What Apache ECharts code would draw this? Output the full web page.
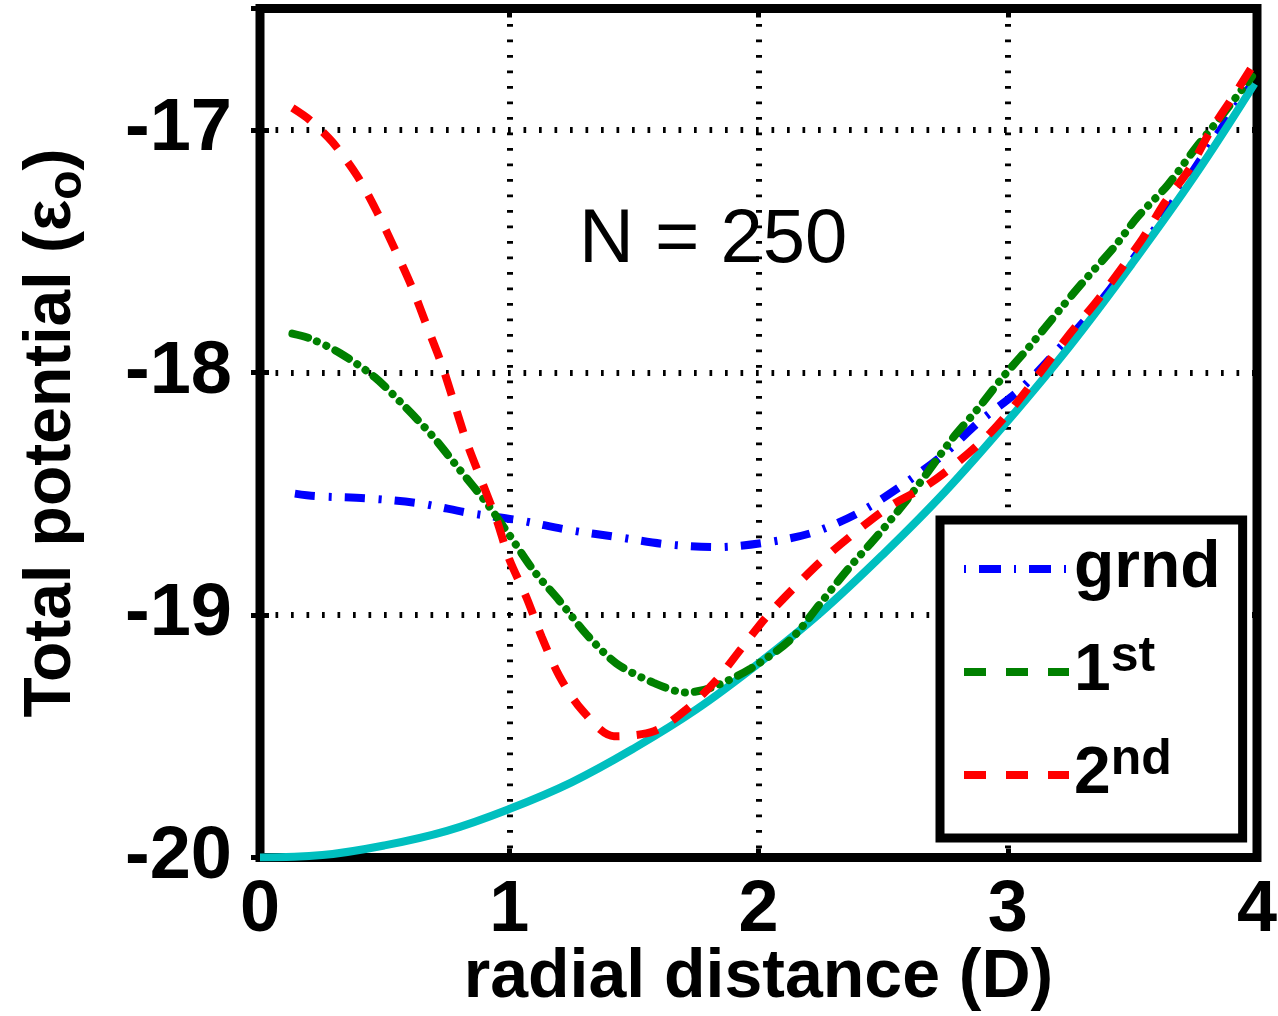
<!DOCTYPE html>
<html>
<head>
<meta charset="utf-8">
<script src="https://cdn.jsdelivr.net/npm/echarts@6/dist/echarts.min.js"></script>
<style>
  html, body { margin: 0; padding: 0; background: #fff; }
  #chart { width: 1278px; height: 1016px; }
</style>
</head>
<body>
<div id="chart"></div>
<script>
// Total potential vs radial distance, N = 250 (x in D, y in units of epsilon_o)
const xTicks = [0, 1, 2, 3, 4];
const yTicks = [-20, -19, -18, -17];

// ground state
const grnd = [
  [0.14, -18.50], [0.22, -18.51], [0.44, -18.52], [0.64, -18.54], [0.84, -18.58],
  [1.04, -18.61], [1.24, -18.65], [1.44, -18.68], [1.64, -18.71], [1.84, -18.72],
  [2.04, -18.70], [2.22, -18.66], [2.40, -18.58], [2.57, -18.47], [2.74, -18.34],
  [2.89, -18.20], [3.05, -18.07], [3.19, -17.92], [3.33, -17.76], [3.49, -17.55],
  [3.61, -17.38], [3.73, -17.19], [3.86, -16.99], [3.98, -16.81]
];

// first excited state
const first = [
  [0.13, -17.84], [0.20, -17.86], [0.32, -17.92], [0.46, -18.02], [0.58, -18.14],
  [0.69, -18.26], [0.80, -18.40], [0.91, -18.54], [1.00, -18.67], [1.10, -18.82],
  [1.20, -18.94], [1.31, -19.08], [1.43, -19.20], [1.58, -19.28], [1.71, -19.32],
  [1.81, -19.30], [1.97, -19.22], [2.13, -19.10], [2.25, -18.95], [2.36, -18.81],
  [2.48, -18.67], [2.60, -18.52], [2.68, -18.41], [2.78, -18.27], [2.88, -18.15],
  [2.98, -18.02], [3.09, -17.89], [3.21, -17.74], [3.30, -17.63], [3.43, -17.48],
  [3.52, -17.36], [3.64, -17.23], [3.75, -17.08], [3.86, -16.94], [3.98, -16.78]
];

// second excited state
const second = [
  [0.13, -16.91], [0.20, -16.96], [0.29, -17.05], [0.39, -17.19], [0.47, -17.34],
  [0.54, -17.49], [0.61, -17.65], [0.67, -17.81], [0.73, -17.97], [0.78, -18.13],
  [0.83, -18.29], [0.89, -18.45], [0.95, -18.61], [1.00, -18.77], [1.07, -18.93],
  [1.13, -19.09], [1.20, -19.25], [1.29, -19.39], [1.42, -19.50], [1.58, -19.48],
  [1.71, -19.39], [1.83, -19.27], [1.93, -19.14], [2.03, -19.01], [2.15, -18.88],
  [2.26, -18.77], [2.40, -18.65], [2.53, -18.55], [2.67, -18.47], [2.80, -18.37],
  [2.93, -18.25], [3.04, -18.12], [3.25, -17.84], [3.37, -17.69], [3.54, -17.45],
  [3.63, -17.30], [3.73, -17.16], [3.81, -17.01], [3.90, -16.87], [3.98, -16.74]
];

// harmonic confining potential
const trap = [
  [0.00, -20.00], [0.25, -19.99], [0.50, -19.95], [0.75, -19.89], [1.00, -19.80],
  [1.25, -19.69], [1.50, -19.55], [1.75, -19.39], [2.00, -19.20], [2.25, -18.99],
  [2.50, -18.75], [2.75, -18.49], [3.00, -18.20], [3.25, -17.89], [3.50, -17.55],
  [3.75, -17.19], [3.99, -16.81]
];

const FONT = '"Liberation Sans", Arial, Helvetica, sans-serif';

const chart = echarts.init(document.getElementById('chart'), null, { renderer: 'canvas' });

const tickStyle = { inside: true, length: 9, lineStyle: { color: '#000', width: 5 } };
const gridDots = { show: true, lineStyle: { color: '#000', width: 6, type: [2.7, 12.8] } };

chart.setOption({
  animation: false,
  backgroundColor: '#fff',
  grid: {
    left: 260, right: 21, top: 8.5, bottom: 158.5,
    outerBoundsMode: 'none', containLabel: false,
    show: true, borderColor: '#000', borderWidth: 9, backgroundColor: 'transparent'
  },
  xAxis: [
    {
      type: 'value', min: xTicks[0], max: xTicks[xTicks.length - 1], interval: 1,
      position: 'bottom',
      axisLine: { show: false },
      axisTick: tickStyle,
      axisLabel: { fontFamily: FONT, fontWeight: 'bold', fontSize: 72, color: '#000', margin: 18 },
      splitLine: gridDots,
      name: 'radial distance (D)', nameLocation: 'middle', nameGap: 87, nameMoveOverlap: false,
      nameTextStyle: { fontFamily: FONT, fontWeight: 'bold', fontSize: 68, color: '#000' }
    },
    {
      type: 'value', min: xTicks[0], max: xTicks[xTicks.length - 1], interval: 1,
      position: 'top',
      axisLine: { show: false }, axisTick: tickStyle,
      axisLabel: { show: false }, splitLine: { show: false }
    }
  ],
  yAxis: [
    {
      type: 'value', min: yTicks[0], max: -16.5, interval: 1,
      position: 'left',
      axisLine: { show: false },
      axisTick: tickStyle,
      axisLabel: {
        fontFamily: FONT, fontWeight: 'bold', fontSize: 74, color: '#000', margin: 28,
        showMaxLabel: false,
        formatter: v => (yTicks.indexOf(v) >= 0 ? String(v) : '')
      },
      splitLine: gridDots,
      name: '{a|Total potential (ε}{b|o}{a|)}',
      nameLocation: 'middle', nameRotate: 90, nameGap: 168, nameMoveOverlap: false,
      nameTextStyle: {
        fontFamily: FONT, fontWeight: 'bold', fontSize: 66, color: '#000',
        rich: {
          a: { fontFamily: FONT, fontWeight: 'bold', fontSize: 66, color: '#000', lineHeight: 80 },
          b: { fontFamily: FONT, fontWeight: 'bold', fontSize: 48, color: '#000', lineHeight: 16, verticalAlign: 'bottom' }
        }
      }
    },
    {
      type: 'value', min: yTicks[0], max: -16.5, interval: 1,
      position: 'right',
      axisLine: { show: false }, axisTick: tickStyle,
      axisLabel: { show: false }, splitLine: { show: false }
    }
  ],
  legend: {
    orient: 'vertical',
    left: 940, top: 520,
    padding: [16, 22, 30, 20],
    itemGap: 30,
    itemWidth: 105, itemHeight: 20,
    backgroundColor: '#fff', borderColor: '#000', borderWidth: 9, borderRadius: 0,
    selectedMode: false,
    itemStyle: { opacity: 0 },
    lineStyle: { width: 8 },
    data: [
      { name: 'grnd', itemStyle: { opacity: 0 }, lineStyle: { type: [2, 13, 22, 13], cap: 'butt', width: 8 } },
      { name: '1st', itemStyle: { opacity: 0 }, lineStyle: { type: [22, 20], cap: 'butt', width: 8 } },
      { name: '2nd', itemStyle: { opacity: 0 }, lineStyle: { type: [22, 20], cap: 'butt', width: 8 } }
    ],
    formatter: n => n === 'grnd' ? '{m|grnd}' : (n === '1st' ? '{m|1}{s|st}' : '{m|2}{s|nd}'),
    textStyle: {
      fontFamily: FONT, fontWeight: 'bold', fontSize: 66, color: '#000',
      rich: {
        m: { fontFamily: FONT, fontWeight: 'bold', fontSize: 66, color: '#000', lineHeight: 80 },
        s: { fontFamily: FONT, fontWeight: 'bold', fontSize: 50, color: '#000', lineHeight: 24, verticalAlign: 'top' }
      }
    }
  },
  graphic: [
    {
      type: 'text', x: 579, y: 241, z: 10,
      style: {
        text: 'N = 250', fontFamily: FONT, fontSize: 76, fontWeight: 'normal', fill: '#000',
        align: 'left', verticalAlign: 'middle', textAlign: 'left', textVerticalAlign: 'middle'
      }
    }
  ],
  series: [
    {
      name: 'grnd', type: 'line', data: grnd, symbol: 'none', showSymbol: false, smooth: 0.3,
      itemStyle: { color: '#0000ff' },
      lineStyle: { color: '#0000ff', width: 8, type: [20, 14, 3, 13], cap: 'butt' }
    },
    {
      name: 'trap', type: 'line', data: trap, symbol: 'none', showSymbol: false, smooth: 0.4,
      itemStyle: { color: '#00bfbf' },
      lineStyle: { color: '#00bfbf', width: 8, type: 'solid' }
    },
    {
      name: '1st', type: 'line', data: first, symbol: 'none', showSymbol: false, smooth: 0.3,
      itemStyle: { color: '#008000' },
      lineStyle: { color: '#008000', width: 8, type: [16, 10, 0.1, 10, 0.1, 10], cap: 'round' }
    },
    {
      name: '2nd', type: 'line', data: second, symbol: 'none', showSymbol: false, smooth: 0.3,
      itemStyle: { color: '#ff0000' },
      lineStyle: { color: '#ff0000', width: 8, type: [22, 17], cap: 'butt' }
    }
  ]
});
</script>
</body>
</html>
